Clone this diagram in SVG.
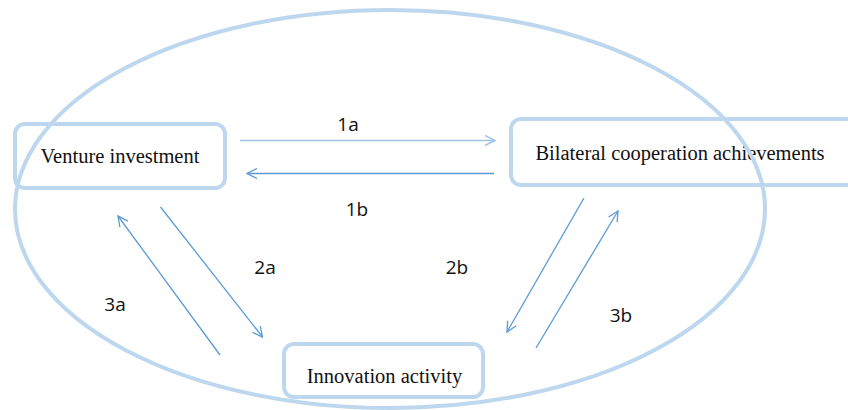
<svg xmlns="http://www.w3.org/2000/svg" width="848" height="410" viewBox="0 0 848 410">
<defs>
<style>
.box{fill:#fff;stroke:#bdd7ee;stroke-width:4}
.lbl{font-family:"Liberation Serif",serif;font-size:20.5px;fill:#111;text-anchor:middle}
.num{font-family:"Open Sans","Liberation Sans",sans-serif;font-size:19px;fill:#111;text-anchor:middle}
.c{fill:none;stroke:#5b9bd5;stroke-width:1.3}
.cl{fill:none;stroke:#9dc3e6;stroke-width:1.5}
</style>
<marker id="ah" viewBox="0 0 12 12" refX="11" refY="6" markerWidth="12" markerHeight="12" markerUnits="userSpaceOnUse" orient="auto"><path d="M1,1 L11,6 L1,11" fill="none" stroke="#5b9bd5" stroke-width="1.3"/></marker>
<marker id="ahl" viewBox="0 0 12 12" refX="11" refY="6" markerWidth="12" markerHeight="12" markerUnits="userSpaceOnUse" orient="auto"><path d="M1,1 L11,6 L1,11" fill="none" stroke="#9dc3e6" stroke-width="1.5"/></marker>
</defs>
<rect width="848" height="410" fill="#fff"/>
<g id="n-venture"><rect class="box" x="15" y="124" width="210" height="64" rx="10"/><text class="lbl" x="120" y="163">Venture investment</text></g>
<g id="n-bilateral"><rect class="box" x="511" y="119" width="345" height="66" rx="10"/><text class="lbl" x="680" y="160">Bilateral cooperation achievements</text></g>
<g id="n-innovation"><rect class="box" x="284" y="344" width="199" height="53" rx="10"/><text class="lbl" x="384.5" y="383">Innovation activity</text></g>
<ellipse id="scope" cx="390" cy="209" rx="375" ry="199" fill="none" stroke="#bdd7ee" stroke-width="4"/>
<g id="connectors">
<line class="cl" x1="240" y1="140.5" x2="495" y2="140.5" marker-end="url(#ahl)"/>
<line class="c" x1="494" y1="173.5" x2="247" y2="173.5" marker-end="url(#ah)"/>
<line class="c" x1="160.5" y1="207" x2="262.5" y2="337" marker-end="url(#ah)"/>
<line class="c" x1="220" y1="355" x2="118" y2="216" marker-end="url(#ah)"/>
<line class="c" x1="584" y1="198" x2="507" y2="332" marker-end="url(#ah)"/>
<line class="c" x1="536" y1="348" x2="618" y2="211" marker-end="url(#ah)"/>
</g>
<g id="labels">
<text class="num" x="348" y="131">1a</text>
<text class="num" x="357" y="216">1b</text>
<text class="num" x="265" y="274">2a</text>
<text class="num" x="115" y="311">3a</text>
<text class="num" x="457" y="274">2b</text>
<text class="num" x="621" y="322">3b</text>
</g>
</svg>
